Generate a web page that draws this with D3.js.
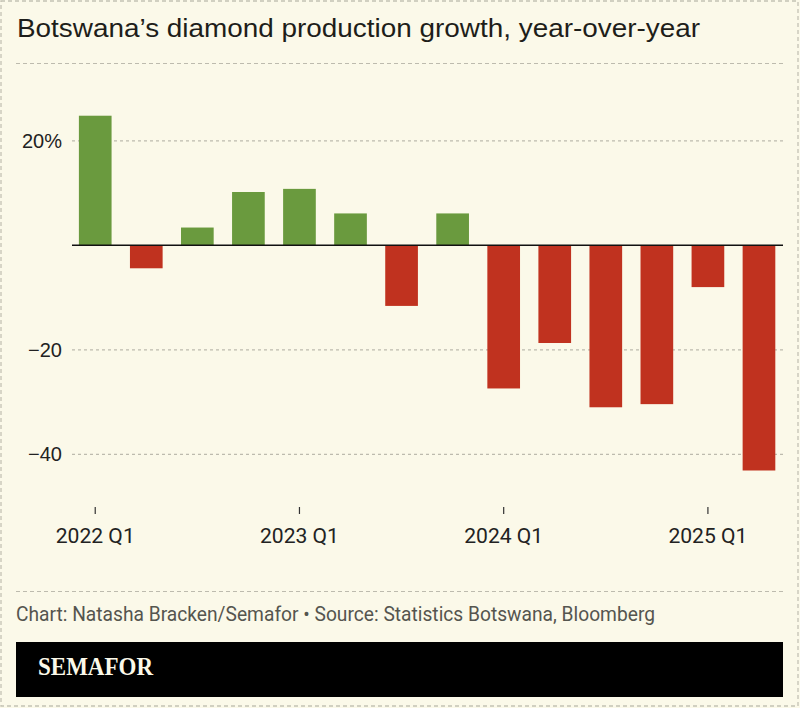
<!DOCTYPE html>
<html><head><meta charset="utf-8">
<script src="https://cdn.jsdelivr.net/npm/d3@7"></script>
<style>
html,body{margin:0;padding:0;background:#fbf9e9;}
svg{display:block;}
</style></head>
<body>
<script>
const categories = ["2022 Q1","2022 Q2","2022 Q3","2022 Q4","2023 Q1","2023 Q2","2023 Q3","2023 Q4","2024 Q1","2024 Q2","2024 Q3","2024 Q4","2025 Q1","2025 Q2"];
const growth = [24.8, -4.4, 3.4, 10.2, 10.8, 6.1, -11.6, 6.1, -27.4, -18.7, -31.0, -30.4, -8.0, -43.1];
const xTickLabels = ["2022 Q1","2023 Q1","2024 Q1","2025 Q1"];
const yTicks = [20, -20, -40];
const title = "Botswana\u2019s diamond production growth, year-over-year";
const source = "Chart: Natasha Bracken/Semafor \u2022 Source: Statistics Botswana, Bloomberg";

const W = 800, H = 708;
const svg = d3.select("body").append("svg").attr("width", W).attr("height", H);
svg.append("rect").attr("width", W).attr("height", H).attr("fill", "#fbf9e9");
svg.append("rect").attr("x", 1).attr("y", 1).attr("width", W - 3).attr("height", H - 3)
  .attr("fill", "none").attr("stroke", "#c4c2b4").attr("stroke-width", 1.3).attr("stroke-dasharray", "4,3");

svg.append("text").attr("x", 17).attr("y", 37).text(title)
  .attr("font-family", "Liberation Sans, Arial, sans-serif").attr("font-size", 25.5)
  .attr("fill", "#1e1e1a").attr("textLength", 683).attr("lengthAdjust", "spacingAndGlyphs");

svg.append("line").attr("x1", 16).attr("x2", 783).attr("y1", 63.5).attr("y2", 63.5)
  .attr("stroke", "#bdbbae").attr("stroke-dasharray", "4,3");

const x = d3.scaleBand().domain(categories).range([69.7, 784.5]).paddingInner(0.36).paddingOuter(0.18);
const y = d3.scaleLinear().domain([-50, 40]).range([506.55, 36.3]);

// gridlines
svg.append("g").selectAll("line").data(yTicks).join("line")
  .attr("x1", 72).attr("x2", 783).attr("y1", d => y(d)).attr("y2", d => y(d))
  .attr("stroke", "#bdbbae").attr("stroke-dasharray", "3,3").attr("stroke-width", 1.2);

// y labels
svg.append("g").selectAll("text").data(yTicks).join("text")
  .attr("x", 62).attr("y", d => y(d) + 7).attr("text-anchor", "end")
  .attr("font-family", "Liberation Sans, Arial, sans-serif").attr("font-size", 20).attr("fill", "#222")
  .text(d => d === 20 ? "20%" : (d < 0 ? "\u2212" + Math.abs(d) : d));

// bars
svg.append("g").selectAll("rect").data(categories).join("rect")
  .attr("x", d => x(d)).attr("width", x.bandwidth())
  .attr("y", (d, i) => y(Math.max(0, growth[i])))
  .attr("height", (d, i) => Math.abs(y(growth[i]) - y(0)))
  .attr("fill", (d, i) => growth[i] >= 0 ? "#6a9a3e" : "#c0321f");

// zero line
svg.append("line").attr("x1", 72).attr("x2", 783).attr("y1", y(0)).attr("y2", y(0))
  .attr("stroke", "#111").attr("stroke-width", 1.6);

// x axis
const xAxis = d3.axisBottom(x).tickValues(xTickLabels).tickSize(7).tickPadding(15).tickFormat(d => d);
const gx = svg.append("g").attr("transform", "translate(0,507)").call(xAxis);
gx.select(".domain").remove();
gx.selectAll(".tick line").attr("stroke", "#333").attr("stroke-width", 1.2);
gx.selectAll(".tick text").attr("font-family", "Roboto, sans-serif").attr("font-size", 20).attr("fill", "#222")
  .attr("textLength", 79).attr("lengthAdjust", "spacingAndGlyphs");

// footer
svg.append("line").attr("x1", 16).attr("x2", 783).attr("y1", 591.5).attr("y2", 591.5)
  .attr("stroke", "#bdbbae").attr("stroke-dasharray", "4,3");
svg.append("text").attr("x", 16).attr("y", 621).text(source)
  .attr("font-family", "Roboto, sans-serif").attr("font-size", 19.5).attr("fill", "#55554f")
  .attr("textLength", 639).attr("lengthAdjust", "spacingAndGlyphs");

svg.append("rect").attr("x", 16).attr("y", 642).attr("width", 767).attr("height", 55).attr("fill", "#000");
svg.append("text").attr("x", 38).attr("y", 675).text("SEMAFOR")
  .attr("font-family", "Liberation Serif, serif").attr("font-weight", "bold").attr("font-size", 25)
  .attr("fill", "#fbf9e9").attr("textLength", 115).attr("lengthAdjust", "spacingAndGlyphs");
</script>
</body></html>
